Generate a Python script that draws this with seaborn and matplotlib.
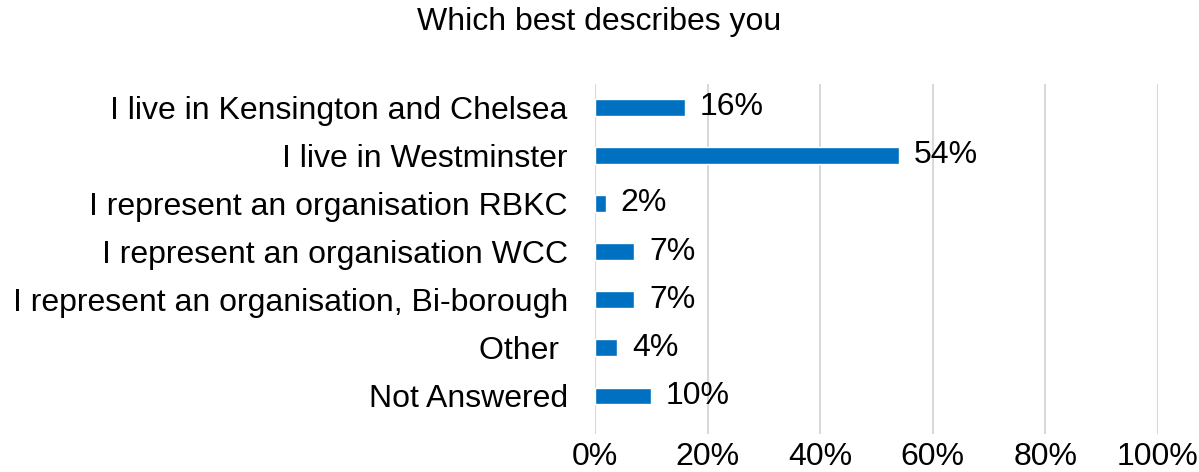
import matplotlib
matplotlib.use("Agg")
import matplotlib.pyplot as plt
import seaborn as sns
import pandas as pd
from matplotlib.ticker import PercentFormatter

# data
categories = ["I live in Kensington and Chelsea", "I live in Westminster",
              "I represent an organisation RBKC", "I represent an organisation WCC",
              "I represent an organisation, Bi-borough", "Other ", "Not Answered"]
percent = [16, 54, 2, 7, 7, 4, 10]
title = "Which best describes you"

df = pd.DataFrame({"category": categories, "percent": percent})

sns.set_style("white")
plt.rcParams['font.family'] = ['Liberation Sans', 'DejaVu Sans']

fig = plt.figure(figsize=(11.99, 4.72), dpi=100)
ax = fig.add_axes([0.4962, 0.0805, 0.4696, 0.7415])

sns.barplot(data=df, x="percent", y="category", color="#0070C0",
            width=0.35, saturation=1, ax=ax, zorder=3)

for i, v in enumerate(percent):
    ax.text(v + 2.6, i, f"{v}%", va="center", ha="left", fontsize=23, color="#000000")

ax.set_xlim(0, 100)
ax.set_ylim(6.79, -0.48)
ax.set_xticks(range(0, 101, 20))
ax.xaxis.set_major_formatter(PercentFormatter(decimals=0))
ax.grid(axis="x", color="#D9D9D9", linewidth=1.5, zorder=0)
ax.grid(axis="y", visible=False)
for s in ax.spines.values():
    s.set_visible(False)
ax.tick_params(axis="both", length=0, labelsize=23, colors="#000000")
ax.tick_params(axis="x", pad=6)
ax.tick_params(axis="y", pad=19.5)
ax.set_xlabel("")
ax.set_ylabel("")

fig.text(0.5, 1 - 22 / 472, title, ha="center", va="center", fontsize=23, color="#000000")

fig.savefig("out.png", dpi=100)
